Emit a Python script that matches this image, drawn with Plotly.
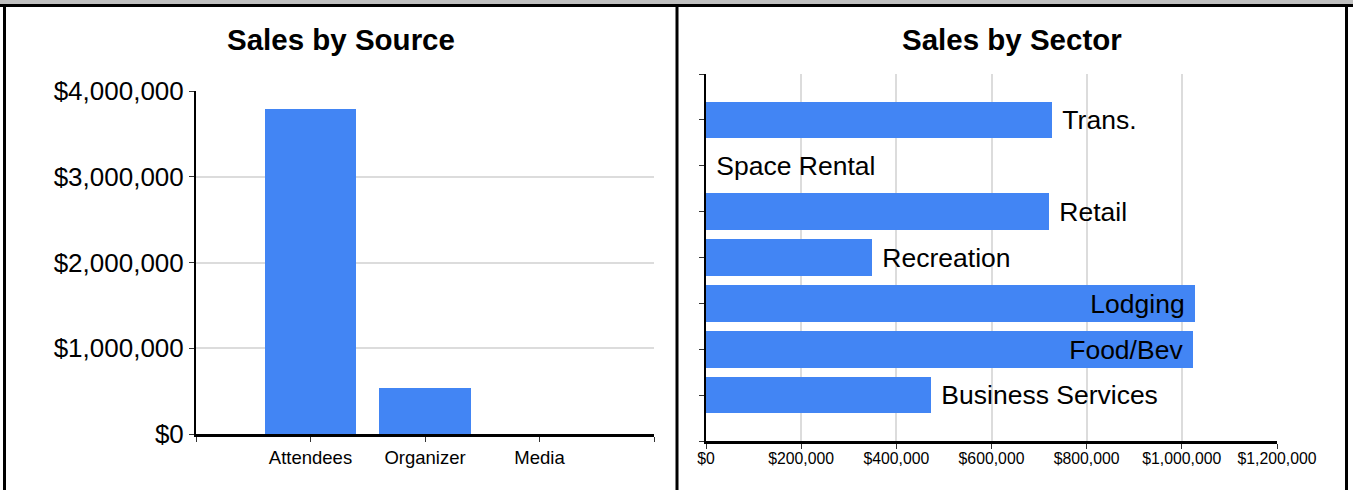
import plotly.graph_objects as go

# ---- data ----
sources = ["Attendees", "Organizer", "Media"]
source_sales = [3790000, 540000, 0]

sectors = ["Trans.", "Space Rental", "Retail", "Recreation", "Lodging", "Food/Bev", "Business Services"]
sector_sales = [727000, 0, 721000, 349000, 1028000, 1023000, 473000]
sector_label_pos = ["outside", "outside", "outside", "outside", "inside", "inside", "outside"]

left_y_ticks = [0, 1000000, 2000000, 3000000, 4000000]
left_y_ticktext = ["$0", "$1,000,000", "$2,000,000", "$3,000,000", "$4,000,000"]
right_x_ticks = [0, 200000, 400000, 600000, 800000, 1000000, 1200000]
right_x_ticktext = ["$0", "$200,000", "$400,000", "$600,000", "$800,000", "$1,000,000", "$1,200,000"]

# ---- layout constants ----
W, H = 1353, 490
FONT = "Liberation Sans, Arial, sans-serif"
BLUE = "#4285f4"
GRID = "#dcdcdc"

def px(x):
    return x / W

def py(y):
    return 1 - y / H

fig = go.Figure()

# Left chart: vertical bars
src_x = [i + 1 for i in range(len(sources))]
fig.add_trace(go.Bar(
    x=src_x, y=source_sales, width=0.8,
    marker=dict(color=BLUE, line=dict(width=0)),
    xaxis="x", yaxis="y", showlegend=False, hoverinfo="skip",
))

# Right chart: horizontal bars
sec_y = [len(sectors) - 1 - i for i in range(len(sectors))]
templates = ["\u00a0%{text}" if p == "outside" else "%{text}\u00a0" for p in sector_label_pos]
fig.add_trace(go.Bar(
    x=sector_sales, y=sec_y, orientation="h", width=0.8,
    marker=dict(color=BLUE, line=dict(width=0)),
    text=sectors, texttemplate=templates, textposition=sector_label_pos,
    insidetextanchor="end", constraintext="none", cliponaxis=False,
    textfont=dict(family=FONT, size=26.5, color="black"),
    insidetextfont=dict(family=FONT, size=26.5, color="black"),
    outsidetextfont=dict(family=FONT, size=26.5, color="black"),
    xaxis="x2", yaxis="y2", showlegend=False, hoverinfo="skip",
))

axis_common = dict(ticks="outside", ticklen=5, tickwidth=1, tickcolor="#333",
                   zeroline=False, showline=True, linecolor="black", automargin=False)

fig.update_layout(
    width=W, height=H, autosize=False,
    margin=dict(l=0, r=0, t=0, b=0, pad=0, autoexpand=False),
    paper_bgcolor="white", plot_bgcolor="white",
    font=dict(family=FONT, color="black"),
    bargap=0,
    xaxis=dict(domain=[px(196), px(654)], range=[0, 4], tickmode="array",
               tickvals=[0, 1, 2, 3, 4], ticktext=[""] + sources + [""],
               showgrid=False, linewidth=3, tickfont=dict(size=18.5),
               anchor="y", **axis_common),
    yaxis=dict(domain=[py(434), py(91)], range=[0, 4000000], tickmode="array",
               tickvals=left_y_ticks, ticktext=left_y_ticktext,
               showgrid=True, gridcolor=GRID, gridwidth=2, linewidth=2,
               tickfont=dict(size=26), anchor="x", **axis_common),
    xaxis2=dict(domain=[px(706), px(1277)], range=[0, 1200000], tickmode="array",
                tickvals=right_x_ticks, ticktext=right_x_ticktext,
                showgrid=True, gridcolor=GRID, gridwidth=2, linewidth=3,
                tickfont=dict(size=15.8), ticklabelstandoff=-4,
                anchor="y2", **axis_common),
    yaxis2=dict(domain=[py(441), py(74)], range=[-1, 7], tickmode="array",
                tickvals=list(range(-1, 8)), showticklabels=False,
                showgrid=False, linewidth=2, anchor="x2", **axis_common),
    annotations=[
        dict(text="<b>Sales by Source</b>", xref="paper", yref="paper",
             x=px(341), y=py(40), xanchor="center", yanchor="middle",
             showarrow=False, font=dict(size=29.5, family=FONT, color="black")),
        dict(text="<b>Sales by Sector</b>", xref="paper", yref="paper",
             x=px(1012), y=py(40), xanchor="center", yanchor="middle",
             showarrow=False, font=dict(size=29.5, family=FONT, color="black")),
    ],
    shapes=[
        dict(type="rect", xref="paper", yref="paper", x0=0, x1=1, y0=py(4), y1=1,
             fillcolor="#c0c0c0", line=dict(width=0), layer="above"),
        dict(type="line", xref="paper", yref="paper", x0=0, x1=1, y0=py(5.5), y1=py(5.5),
             line=dict(color="black", width=3), layer="above"),
        dict(type="line", xref="paper", yref="paper", x0=px(4.5), x1=px(4.5), y0=0, y1=py(4),
             line=dict(color="black", width=3), layer="above"),
        dict(type="line", xref="paper", yref="paper", x0=px(677), x1=px(677), y0=0, y1=py(4),
             line=dict(color="black", width=3), layer="above"),
        dict(type="line", xref="paper", yref="paper", x0=px(1346.5), x1=px(1346.5), y0=0, y1=py(4),
             line=dict(color="black", width=3), layer="above"),
    ],
)

fig.write_html(
    "out.html",
    config={"displayModeBar": False},
    post_script="document.body.style.margin='0';",
)
